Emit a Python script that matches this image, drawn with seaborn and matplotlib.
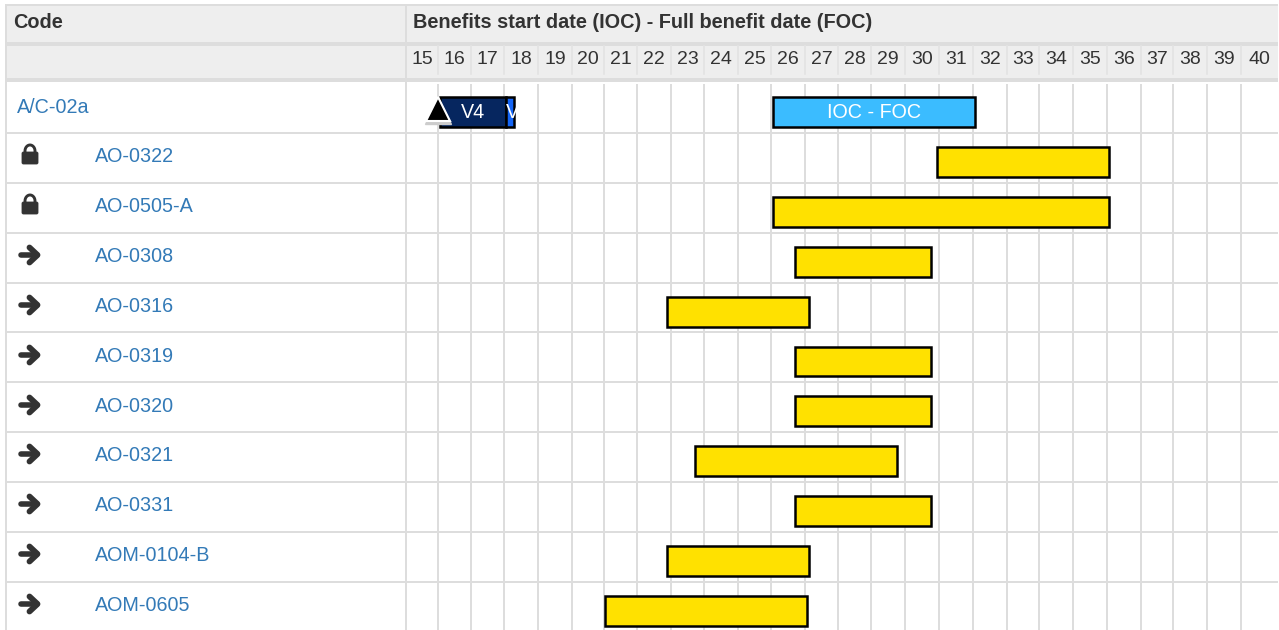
import numpy as np
import pandas as pd
import seaborn as sns
import matplotlib.pyplot as plt
from matplotlib.patches import FancyBboxPatch, Rectangle

codes = ['A/C-02a', 'AO-0322', 'AO-0505-A', 'AO-0308', 'AO-0316', 'AO-0319',
         'AO-0320', 'AO-0321', 'AO-0331', 'AOM-0104-B', 'AOM-0605']
icons = [None, 'lock', 'lock', 'arrow', 'arrow', 'arrow',
         'arrow', 'arrow', 'arrow', 'arrow', 'arrow']
years = list(range(15, 41))

bar_codes = ['A/C-02a', 'A/C-02a', 'A/C-02a', 'AO-0322', 'AO-0505-A', 'AO-0308', 'AO-0316',
             'AO-0319', 'AO-0320', 'AO-0321', 'AO-0331', 'AOM-0104-B', 'AOM-0605']
bar_kinds = ['ioc', 'v4', 'v5', 'yellow', 'yellow', 'yellow', 'yellow',
             'yellow', 'yellow', 'yellow', 'yellow', 'yellow', 'yellow']
bar_start = [26.06, 16.06, 18.06, 30.94, 26.06, 26.71, 22.88,
             26.71, 26.71, 23.74, 26.71, 22.88, 21.03]
bar_end = [32.06, 18.06, 18.29, 36.06, 36.06, 30.76, 27.12,
           30.76, 30.76, 29.76, 30.76, 27.12, 27.06]

palette = {'ioc': '#3bbcff', 'v4': '#06265f', 'v5': '#1565f5', 'yellow': '#ffe100'}
df = pd.DataFrame({'code': bar_codes, 'kind': bar_kinds, 'start': bar_start, 'end': bar_end})
df['width'] = df['end'] - df['start']

W, H = 1279, 630
GRID = '#dddddd'
BAND = '#eeeeee'
LINK = '#337ab7'
TEXT = '#333333'

# table columns are not quite even, pixel edge of each year column
col_px = [406, 438, 471, 504, 538, 572, 604, 637, 671, 704, 738, 771, 805, 838, 871,
          905, 939, 973, 1007, 1039, 1073, 1107, 1141, 1173, 1207, 1241, 1278]
col_years = years + [41]

sns.set_theme(style='white')
plt.rcParams['font.family'] = ['Liberation Sans', 'DejaVu Sans']

fig = plt.figure(figsize=(W / 100, H / 100), dpi=100)

# table chrome in pixel coordinates
bg = fig.add_axes([0, 0, 1, 1], zorder=0)
bg.set_xlim(0, W)
bg.set_ylim(H, 0)
bg.axis('off')
bg.add_patch(Rectangle((5, 4), 1273, 78, fc=BAND, ec='none'))
bg.add_patch(Rectangle((5, 4), 1273, 2, fc=GRID, ec='none'))
bg.add_patch(Rectangle((5, 42), 1273, 4, fc=GRID, ec='none'))
bg.add_patch(Rectangle((5, 78), 1273, 4, fc=GRID, ec='none'))
bg.add_patch(Rectangle((5, 4), 2, H - 4, fc=GRID, ec='none'))
bg.add_patch(Rectangle((405, 4), 2, 78, fc=GRID, ec='none'))
bg.add_patch(Rectangle((405, 82), 2, H - 82, fc=GRID, ec='none'))
for i in range(len(codes) - 1):
    bg.add_patch(Rectangle((5, 132 + i * 49.85), 1273, 2, fc=GRID, ec='none'))

bg.text(13, 23, 'Code', fontsize=14.3, fontweight='bold', color=TEXT, va='center')
bg.text(413, 23, 'Benefits start date (IOC) - Full benefit date (FOC)', fontsize=14.3,
        fontweight='bold', color=TEXT, va='center')


def draw_lock(y):
    t = np.linspace(np.pi, 2 * np.pi, 30)
    xs = np.r_[25, 30 + 5 * np.cos(t), 35]
    ys = np.r_[y, y - 4 + 6 * np.sin(t), y]
    bg.plot(xs, ys, color=TEXT, lw=2.1, solid_capstyle='butt')
    bg.add_patch(FancyBboxPatch((22, y - 3), 16, 12, boxstyle='round,pad=0,rounding_size=1.5',
                                fc=TEXT, ec=TEXT, lw=0.6))


def draw_arrow(y):
    bg.plot([21, 37], [y, y], color=TEXT, lw=4.0, solid_capstyle='round')
    bg.plot([29.5, 37.5, 29.5], [y - 7.5, y, y + 7.5], color=TEXT, lw=4.2,
            solid_capstyle='round', solid_joinstyle='round')


label_y = [106, 155, 205, 255, 305, 355, 405, 454, 504, 554, 604]
for code, icon, y in zip(codes, icons, label_y):
    bg.text(17 if icon is None else 95, y + 1.5, code, fontsize=14.2, color=LINK, va='center')
    if icon == 'lock':
        draw_lock(y)
    elif icon == 'arrow':
        draw_arrow(y)

# gantt part
ax = fig.add_axes([406 / W, 0, (1278 - 406) / W, (H - 84) / H], zorder=1)
ax.patch.set_alpha(0)
for _, row in df.iterrows():
    sns.barplot(x=[row['width']], y=[row['code']], left=row['start'], order=codes,
                color=palette[row['kind']], saturation=1, width=0.6, edgecolor='black',
                linewidth=1.8, orient='h', ax=ax, zorder=3)

ax.set_xscale('function', functions=(lambda v: np.interp(v, col_years, col_px),
                                     lambda p: np.interp(p, col_px, col_years)))
ax.set_xlim(15, 41)
ax.set_ylim((630 - 112) / 49.9, (84 - 112) / 49.9)
ax.set_xticks(col_years[1:-1])
ax.set_yticks([])
ax.set_xlabel('')
ax.set_ylabel('')
ax.tick_params(length=0, labelbottom=False)
ax.grid(axis='x', color=GRID, lw=1.44)
ax.set_axisbelow(True)
sns.despine(ax=ax, left=True, bottom=True)

head_y = (60 - 112) / 49.9
for yr in years:
    ax.text(yr + 0.5, head_y, str(yr), ha='center', va='center', fontsize=14.0,
            color=TEXT, clip_on=False)
for yr in col_years[1:-1]:
    ax.plot([yr, yr], [(46 - 112) / 49.9, (74 - 112) / 49.9], color='#e4e4e4', lw=1.44, clip_on=False)

ax.text(17.05, 0, 'V4', color='white', fontsize=14.2, ha='center', va='center', zorder=5)
ax.text(29.08, 0, 'IOC - FOC', color='white', fontsize=14.2, ha='center', va='center', zorder=5)
sliver = [p for p in ax.patches if abs(p.get_width() - 0.23) < 0.01][0]
ax.text(18.07, 0, 'V', color='white', fontsize=14.2, ha='left', va='center', zorder=5,
        clip_path=sliver)

ax.plot([16.0], [-0.02], marker='^', ms=19, mfc='#cccccc', mec='#cccccc', mew=1, zorder=6, clip_on=False)
ax.plot([16.0], [-0.06], marker='^', ms=17, mfc='black', mec='white', mew=1.5, zorder=7, clip_on=False)

fig.savefig('out.png', dpi=100)
